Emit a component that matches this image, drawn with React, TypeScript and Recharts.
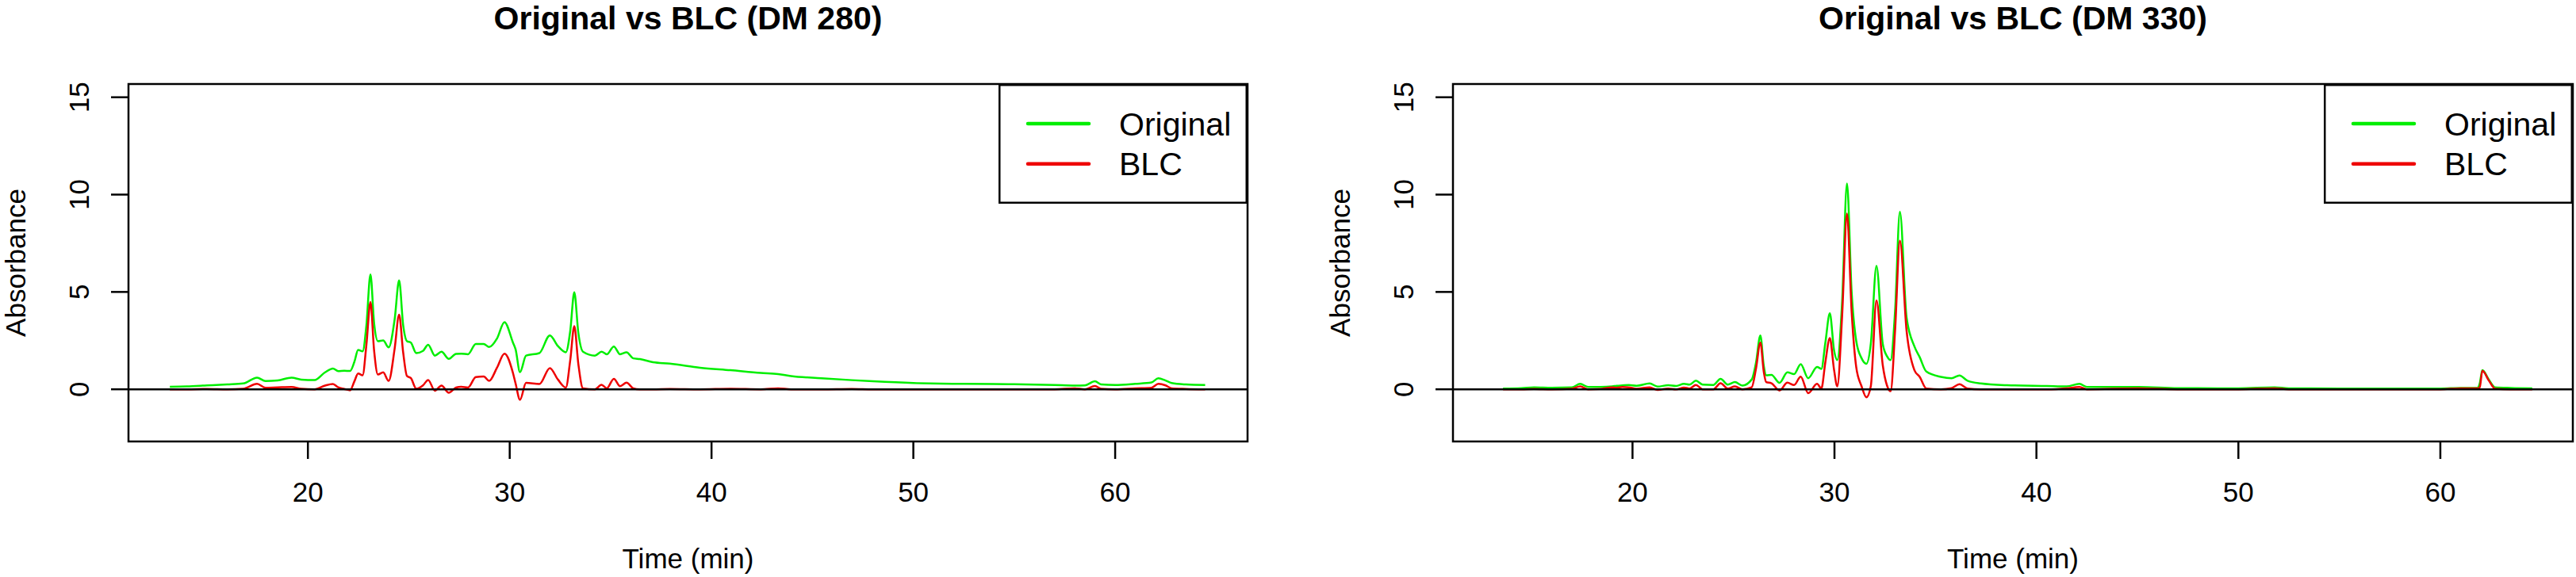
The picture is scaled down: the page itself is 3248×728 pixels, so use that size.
import { LineChart, Line, XAxis, YAxis, ReferenceLine, ReferenceArea, Legend } from "recharts"

// DM 280 chromatogram (time in min, absorbance)
const time280 = [
  13.16, 14.0, 15.0, 16.0, 16.8, 17.48, 17.9, 18.5, 19.19, 19.67, 20.33, 20.85, 21.24, 21.5, 21.8, 22.09,
  22.3, 22.49, 22.71, 22.9, 23.1, 23.28, 23.47, 23.73, 24.0, 24.3, 24.52, 24.72, 24.91, 25.1, 25.37, 25.7,
  25.96, 26.29, 26.62, 26.98, 27.34, 27.6, 27.93, 28.32, 28.71, 28.98, 29.37, 29.74, 30.16, 30.29, 30.51,
  30.81, 31.47, 31.99, 32.39, 32.78, 33.0, 33.2, 33.4, 33.63, 34.22, 34.55, 34.81, 35.16, 35.47, 35.79,
  36.12, 36.45, 37.1, 37.93, 39.43, 40.94, 42.44, 43.3, 43.94, 45.45, 46.95, 48.0, 50.0, 52.5, 55.0, 57.0,
  58.0, 58.5, 59.0, 59.3, 60.0, 61.0, 61.8, 62.14, 62.5, 62.8, 63.5, 64.46,
]
const original280 = [
  0.13, 0.15, 0.2, 0.25, 0.3, 0.6, 0.42, 0.45, 0.6, 0.5, 0.47, 0.87, 1.07, 0.93, 0.95, 0.94,
  1.4, 2.02, 1.95, 3.3, 5.9, 3.4, 2.47, 2.51, 2.15, 3.6, 5.59, 3.3, 2.47, 2.4, 1.86, 1.97,
  2.29, 1.73, 1.93, 1.56, 1.82, 1.83, 1.8, 2.33, 2.33, 2.17, 2.61, 3.45, 2.4, 2.06, 0.88,
  1.73, 1.86, 2.77, 2.22, 1.9, 3.0, 4.98, 2.9, 1.93, 1.73, 1.93, 1.8, 2.2, 1.8, 1.9,
  1.59, 1.55, 1.39, 1.32, 1.11, 0.98, 0.84, 0.78, 0.68, 0.57, 0.47, 0.41, 0.32, 0.28, 0.26, 0.22,
  0.19, 0.2, 0.41, 0.25, 0.22, 0.28, 0.35, 0.57, 0.45, 0.32, 0.25, 0.22,
]
const blc280 = [
  0.0, 0.0, 0.02, 0.0, 0.03, 0.28, 0.08, 0.1, 0.12, 0.03, 0.0, 0.19, 0.27, 0.1, 0.02, -0.05,
  0.4, 0.81, 0.72, 2.3, 4.48, 2.0, 0.76, 0.87, 0.43, 2.1, 3.83, 1.9, 0.68, 0.58, 0.03, 0.2,
  0.48, -0.07, 0.19, -0.18, 0.09, 0.13, 0.09, 0.63, 0.66, 0.43, 1.11, 1.83, 0.84, 0.3, -0.54,
  0.33, 0.27, 1.09, 0.5, 0.09, 1.5, 3.24, 1.3, 0.05, 0.0, 0.23, 0.05, 0.54, 0.16, 0.34,
  0.05, 0.0, 0.0, 0.02, 0.0, 0.03, 0.0, 0.05, 0.0, 0.0, 0.02, 0.0, 0.0, 0.0, 0.0, 0.0,
  0.05, 0.0, 0.17, 0.03, 0.0, 0.05, 0.08, 0.28, 0.2, 0.05, 0.02, 0.0,
]

// DM 330 chromatogram
const time330 = [
  13.59, 14.5, 15.13, 16.0, 17.0, 17.41, 17.8, 18.4, 19.0, 19.21, 19.5, 19.82, 20.2, 20.85, 21.24, 21.77,
  22.16, 22.55, 22.82, 23.14, 23.47, 24.0, 24.36, 24.72, 25.07, 25.44, 25.9, 26.12, 26.33, 26.5, 26.62,
  26.88, 27.28, 27.67, 28.0, 28.33, 28.7, 29.14, 29.35, 29.55, 29.77, 29.98, 30.14, 30.38, 30.62, 30.85,
  31.08, 31.34, 31.58, 31.8, 32.08, 32.39, 32.6, 32.78, 33.0, 33.24, 33.57, 33.96, 34.22, 34.55, 35.27,
  35.8, 36.19, 36.59, 37.24, 38.55, 40.52, 41.5, 42.13, 42.5, 45.06, 47.0, 50.0, 51.8, 52.5, 55.0, 58.0,
  60.0, 61.0, 61.85, 61.95, 62.08, 62.4, 62.71, 63.5, 64.55,
]
const original330 = [
  0.04, 0.06, 0.1, 0.08, 0.1, 0.28, 0.12, 0.12, 0.15, 0.18, 0.2, 0.22, 0.18, 0.3, 0.14, 0.21,
  0.17, 0.28, 0.24, 0.44, 0.24, 0.22, 0.54, 0.24, 0.37, 0.19, 0.5, 1.4, 2.77, 1.2, 0.72,
  0.74, 0.33, 0.87, 0.78, 1.29, 0.57, 1.15, 1.05, 2.4, 3.9, 2.0, 1.5, 4.5, 10.57, 5.0,
  2.47, 1.6, 1.31, 2.34, 6.34, 2.34, 1.7, 1.5, 4.0, 9.12, 3.69, 2.2, 1.65, 0.91, 0.64,
  0.57, 0.71, 0.44, 0.3, 0.21, 0.17, 0.15, 0.28, 0.12, 0.12, 0.06, 0.05, 0.1, 0.05, 0.04, 0.04,
  0.04, 0.07, 0.07, 0.3, 0.98, 0.5, 0.1, 0.07, 0.05,
]
const blc330 = [
  0.0, 0.0, 0.02, 0.0, 0.03, 0.15, 0.0, 0.02, 0.1, 0.08, 0.12, 0.1, 0.03, 0.1, -0.03, 0.04,
  0.0, 0.09, 0.04, 0.22, 0.0, 0.0, 0.31, 0.04, 0.15, 0.0, 0.1, 1.1, 2.4, 0.9, 0.37,
  0.31, -0.06, 0.34, 0.22, 0.65, -0.2, 0.28, 0.04, 1.4, 2.63, 1.0, 0.15, 3.8, 9.02, 4.0,
  1.12, 0.16, -0.41, 0.16, 4.57, 1.25, 0.2, -0.1, 3.0, 7.63, 3.01, 0.98, 0.64, 0.04, 0.0,
  0.06, 0.26, 0.04, 0.0, 0.0, 0.0, 0.05, 0.12, 0.0, 0.05, 0.0, 0.0, 0.05, 0.0, 0.0, 0.0,
  0.0, 0.05, 0.05, 0.1, 0.95, 0.45, 0.03, 0.0, 0.0,
]

const xTicks = [20, 30, 40, 50, 60]
const yTicks = [0, 5, 10, 15]
const seriesNames = ["Original", "BLC"]

const GREEN = "#00ee00"
const RED = "#ee0000"
const FONT = "'Liberation Sans', Arial, Helvetica, sans-serif"
const X_DOMAIN = [11.11, 66.56]
const Y_DOMAIN = [-2.68, 15.68]

const W = 1624
const H = 728
const BOX_TOP = 106
const BOX_BOTTOM = 557
const LEG_W = 314
const LEG_H = 151

function LegendBox() {
  const colors = [GREEN, RED]
  return (
    <svg width={LEG_W} height={LEG_H} style={{ display: "block" }}>
      <rect x={1.25} y={1.25} width={LEG_W - 2.5} height={LEG_H - 2.5} fill="#fff" stroke="#000" strokeWidth={2.5} />
      {seriesNames.map((name, i) => (
        <g key={name}>
          <line x1={37} x2={114} y1={50 + i * 50.7} y2={50 + i * 50.7} stroke={colors[i]} strokeWidth={4.5} strokeLinecap="round" />
          <text x={152} y={64.7 + i * 50.7} fontSize={41} fontFamily={FONT} fill="#000">
            {name}
          </text>
        </g>
      ))}
    </svg>
  )
}

function Panel({ title, time, original, blc, x, padLeft, padRight }) {
  const rows = time.map((t, i) => ({ t, original: original[i], blc: blc[i] }))
  const boxLeft = padLeft
  const boxRight = W - padRight
  const cx = (boxLeft + boxRight) / 2

  return (
    <div style={{ position: "absolute", left: x, top: 0, width: W, height: H }}>
      <LineChart
        width={W}
        height={H}
        data={rows}
        margin={{ top: BOX_TOP, right: padRight, bottom: H - BOX_BOTTOM - 50, left: padLeft - 62 }}
      >
        <XAxis
          dataKey="t"
          type="number"
          domain={X_DOMAIN}
          ticks={xTicks}
          interval={0}
          allowDataOverflow
          height={50}
          axisLine={false}
          tickSize={22}
          tickLine={{ stroke: "#000", strokeWidth: 2.5 }}
          tick={(p) => (
            <text x={p.x} y={633} textAnchor="middle" fontSize={35} fontFamily={FONT} fill="#000">
              {p.payload.value}
            </text>
          )}
        />
        <YAxis
          type="number"
          domain={Y_DOMAIN}
          ticks={yTicks}
          interval={0}
          allowDataOverflow
          width={62}
          axisLine={false}
          tickSize={22}
          tickLine={{ stroke: "#000", strokeWidth: 2.5 }}
          tick={(p) => (
            <text
              x={boxLeft - 50}
              y={p.y}
              transform={`rotate(-90 ${boxLeft - 50} ${p.y})`}
              textAnchor="middle"
              fontSize={35}
              fontFamily={FONT}
              fill="#000"
            >
              {p.payload.value}
            </text>
          )}
        />
        <ReferenceArea
          x1={X_DOMAIN[0]}
          x2={X_DOMAIN[1]}
          y1={Y_DOMAIN[0]}
          y2={Y_DOMAIN[1]}
          fill="none"
          fillOpacity={0}
          stroke="#000"
          strokeWidth={2.5}
          ifOverflow="visible"
        />
        <Line dataKey="original" name="Original" type="monotone" stroke={GREEN} strokeWidth={2.5} dot={false} isAnimationActive={false} />
        <Line dataKey="blc" name="BLC" type="monotone" stroke={RED} strokeWidth={2.5} dot={false} isAnimationActive={false} />
        <ReferenceLine y={0} stroke="#000" strokeWidth={2.5} />
        <Legend
          layout="vertical"
          align="center"
          verticalAlign="middle"
          wrapperStyle={{ left: boxRight - LEG_W, top: BOX_TOP, width: LEG_W, height: LEG_H }}
          content={() => <LegendBox />}
        />
        <text x={cx} y={37} textAnchor="middle" fontSize={41} fontWeight="bold" fontFamily={FONT} fill="#000">
          {title}
        </text>
        <text x={cx} y={717} textAnchor="middle" fontSize={35} fontFamily={FONT} fill="#000">
          Time (min)
        </text>
        <text
          x={boxLeft - 130}
          y={331.5}
          transform={`rotate(-90 ${boxLeft - 130} 331.5)`}
          textAnchor="middle"
          fontSize={35}
          fontFamily={FONT}
          fill="#000"
        >
          Absorbance
        </text>
      </LineChart>
    </div>
  )
}

export default function App() {
  return (
    <div style={{ position: "absolute", left: 0, top: 0, width: 3248, height: 728, background: "#fff" }}>
      <Panel title="Original vs BLC (DM 280)" time={time280} original={original280} blc={blc280} x={0} padLeft={162} padRight={51} />
      <Panel title="Original vs BLC (DM 330)" time={time330} original={original330} blc={blc330} x={1624} padLeft={208} padRight={4} />
    </div>
  )
}
